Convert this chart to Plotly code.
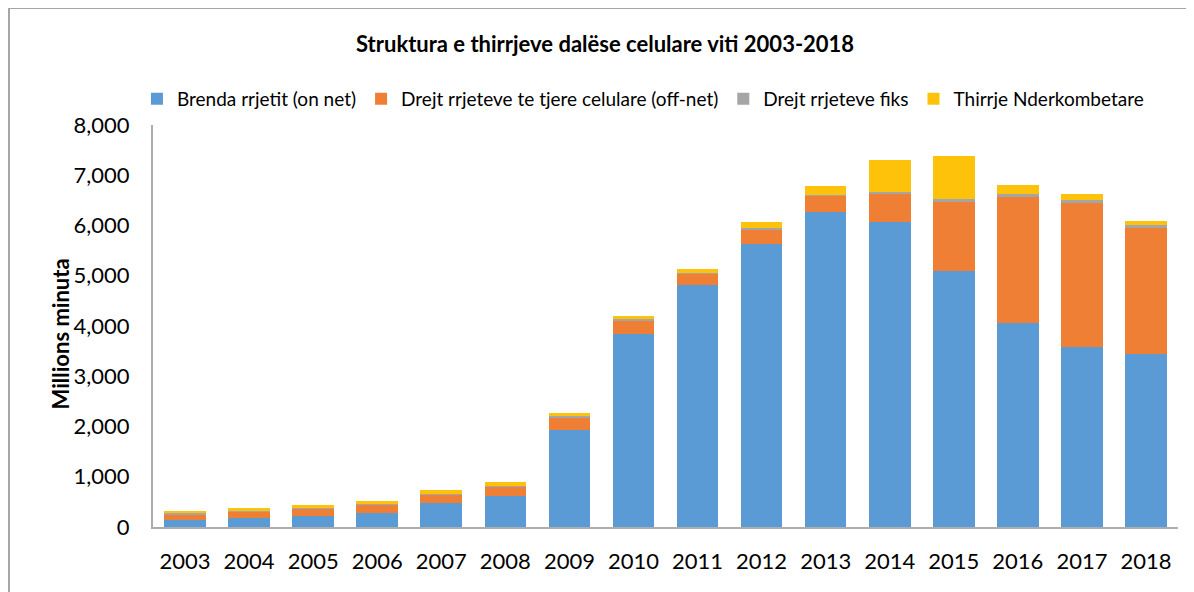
import plotly.graph_objects as go

years = [str(y) for y in range(2003, 2019)]
on_net = [145, 186, 225, 278, 485, 625, 1936, 3847, 4822, 5638, 6275, 6076, 5095, 4060, 3582, 3449]
off_net = [107, 126, 140, 167, 158, 171, 247, 259, 213, 286, 318, 557, 1379, 2507, 2866, 2507]
fiks = [20, 13, 20, 18, 20, 20, 20, 27, 26, 26, 20, 34, 47, 60, 59, 54]
nderkombetare = [46, 53, 53, 54, 73, 80, 66, 66, 73, 120, 173, 636, 862, 179, 120, 80]

series = [
    ("Brenda rrjetit (on net)", on_net, "#5B9BD5"),
    ("Drejt rrjeteve te tjere celulare (off-net)", off_net, "#EF7F35"),
    ("Drejt rrjeteve fiks", fiks, "#A5A5A5"),
    ("Thirrje Nderkombetare", nderkombetare, "#FFC20A"),
]

fig = go.Figure()
for name, vals, color in series:
    fig.add_trace(go.Bar(x=years, y=vals, name=name, marker=dict(color=color, line=dict(width=0))))

FONT = "Lato"
# page body has an 8px margin; figure is sized/offset to compensate
fig.update_layout(
    width=1186, height=584,
    barmode="stack", bargap=0.35,
    plot_bgcolor="white", paper_bgcolor="white",
    margin=dict(l=145, r=16, t=117, b=65),
    font=dict(family=FONT, color="#000000"),
    showlegend=True,
    legend=dict(orientation="h", x=0.478, xanchor="center", y=1.065, yanchor="middle",
                font=dict(size=19, family=FONT), itemwidth=30, traceorder="normal",
                bgcolor="rgba(0,0,0,0)"),
    annotations=[
        dict(text="<b>Struktura e thirrjeve dalëse celulare viti 2003-2018</b>", xref="paper", yref="paper",
             x=0.441, y=1.2015, xanchor="center", yanchor="middle", showarrow=False,
             font=dict(size=22, family=FONT)),
        dict(text="<b>Millions minuta</b>", xref="paper", yref="paper", x=-0.066, y=0.48,
             xshift=-25, xanchor="center", yanchor="middle", textangle=-90, showarrow=False,
             font=dict(size=22, family=FONT)),
    ],
    shapes=[
        dict(type="line", xref="paper", yref="paper", x0=-0.1415, x1=1.1, y0=1.2910, y1=1.2910,
             line=dict(color="#A6A6A6", width=2)),
        dict(type="line", xref="paper", yref="paper", x0=-0.1405, x1=-0.1405, y0=1.2935, y1=-0.2,
             line=dict(color="#A6A6A6", width=2)),
    ],
)
fig.update_xaxes(showline=True, linecolor="#ADADAD", linewidth=2, showgrid=False, ticks="",
                 tickfont=dict(size=22, family=FONT), ticklabelstandoff=14)
fig.update_yaxes(range=[0, 8000], tickvals=list(range(0, 8001, 1000)), tickformat=",d",
                 showline=True, linecolor="#ADADAD", linewidth=2, showgrid=False, ticks="",
                 zeroline=False, tickfont=dict(size=22, family=FONT), ticklabelstandoff=17)

fig.write_html("out.html")
